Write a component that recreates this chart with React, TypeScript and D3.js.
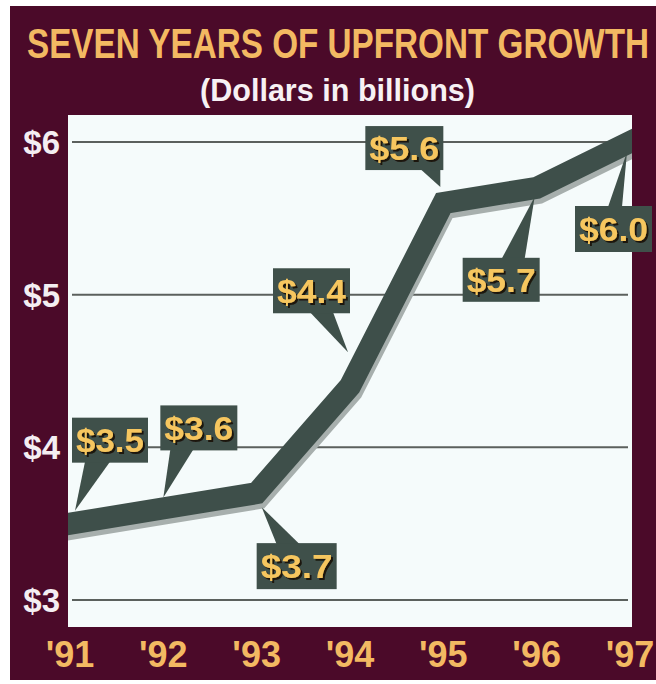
import React from "react";
import * as d3 from "d3";

const years = ["'91", "'92", "'93", "'94", "'95", "'96", "'97"];
const values = [3.5, 3.6, 3.7, 4.4, 5.6, 5.7, 6.0];
const valueLabels = ["$3.5", "$3.6", "$3.7", "$4.4", "$5.6", "$5.7", "$6.0"];
const yTicks = [3, 4, 5, 6];
const yTickLabels = ["$3", "$4", "$5", "$6"];
const title = "SEVEN YEARS OF UPFRONT GROWTH";
const subtitle = "(Dollars in billions)";

// callout layout (pixel offsets relative to the data point)
// bx,by: box top-left offset; side: pointer edge; b0,b1: pointer base from box left; tx,ty: tip offset
const callouts = [
  { bx: 2, by: -106, w: 76, h: 45, side: "bottom", b0: 13, b1: 38, tx: 5, ty: -13 },
  { bx: -3, by: -103, w: 77, h: 45, side: "bottom", b0: 10, b1: 33, tx: 0, ty: -11 },
  { bx: 0, by: 50, w: 80, h: 46, side: "top", b0: 20, b1: 43, tx: 5, ty: 14 },
  { bx: -77, by: -118, w: 77, h: 45, side: "bottom", b0: 37, b1: 60, tx: -2, ty: -34 },
  { bx: -78, by: -77, w: 78, h: 44, side: "bottom", b0: 55, b1: 75, tx: -3, ty: -16 },
  { bx: -74, by: 70, w: 77, h: 44, side: "top", b0: 39, b1: 62, tx: -2, ty: 9 },
  { bx: -55, by: 64, w: 77, h: 46, side: "top", b0: 33, b1: 47, tx: -3, ty: 10 },
];

const W = 656;
const H = 684;
const plot = { x0: 68, y0: 115, x1: 632, y1: 627 };

const MAROON = "#4b0a29";
const PLOT_BG = "#f5fbfb";
const LINE = "#3e4f4a";
const LINE_SHADOW = "#a7afad";
const BOX = "#3f504a";
const GOLD = "#f6c65e";
const TITLE_GOLD = "#f3b962";
const FONT = "'Liberation Sans', Arial, sans-serif";

export default function App() {
  const x = d3.scalePoint<string>().domain(years).range([70, 630]);
  const y = d3.scaleLinear().domain([3, 6]).range([600, 142]);
  const pts: [number, number][] = years.map((yr, i) => [x(yr) as number, y(values[i])]);
  const lineGen = d3.line<[number, number]>().x((d) => d[0]).y((d) => d[1]);
  const path = lineGen(pts) || "";

  return (
    <div style={{ position: "absolute", left: 0, top: 0 }}>
      <svg width={W} height={H} style={{ display: "block" }}>
        <defs>
          <clipPath id="plotClip">
            <rect x={plot.x0} y={plot.y0} width={plot.x1 - plot.x0} height={plot.y1 - plot.y0} />
          </clipPath>
          <filter id="txtShadow" x="-20%" y="-30%" width="140%" height="160%">
            <feDropShadow dx={2} dy={2} stdDeviation={0.6} floodColor="#1e140c" floodOpacity={1} />
          </filter>
        </defs>
        <rect x={0} y={0} width={W} height={H} fill="#ffffff" />
        <rect x={10} y={6} width={W - 10} height={674} fill={MAROON} />
        <g transform="translate(27,58) scale(1,1.38)">
          <text
            x={0}
            y={0}
            fill={TITLE_GOLD}
            fontFamily={FONT}
            fontWeight="bold"
            fontSize={31}
            textLength={622}
            lengthAdjust="spacingAndGlyphs"
          >
            {title}
          </text>
        </g>
        <text
          x={200}
          y={101}
          fill="#f7f1f4"
          fontFamily={FONT}
          fontWeight="bold"
          fontSize={31}
          textLength={275}
          lengthAdjust="spacingAndGlyphs"
        >
          {subtitle}
        </text>
        <rect x={plot.x0} y={plot.y0} width={plot.x1 - plot.x0} height={plot.y1 - plot.y0} fill={PLOT_BG} />
        {yTicks.map((t) => (
          <line key={t} x1={72} x2={628} y1={y(t)} y2={y(t)} stroke="#5b605d" strokeWidth={2} />
        ))}
        {yTicks.map((t, i) => (
          <text
            key={"yl" + t}
            x={60}
            y={y(t) + 12}
            textAnchor="end"
            fill="#f4eef2"
            fontFamily={FONT}
            fontWeight="bold"
            fontSize={33}
          >
            {yTickLabels[i]}
          </text>
        ))}
        <g clipPath="url(#plotClip)">
          <path
            d={path}
            transform="translate(2,5)"
            fill="none"
            stroke={LINE_SHADOW}
            strokeWidth={22}
            strokeLinejoin="miter"
            strokeLinecap="square"
          />
          <path
            d={path}
            fill="none"
            stroke={LINE}
            strokeWidth={22}
            strokeLinejoin="miter"
            strokeLinecap="square"
          />
        </g>
        {callouts.map((c, i) => {
          const [px, py] = pts[i];
          const left = px + c.bx;
          const top = py + c.by;
          const edgeY = c.side === "bottom" ? top + c.h - 1 : top + 1;
          const tri = `M${left + c.b0},${edgeY} L${left + c.b1},${edgeY} L${px + c.tx},${py + c.ty} Z`;
          const tx = left + c.w / 2;
          const ty = top + c.h / 2 + 12;
          return (
            <g key={"c" + i}>
              <path d={tri} fill={BOX} />
              <rect x={left} y={top} width={c.w} height={c.h} fill={BOX} />
              <text
                x={tx}
                y={ty}
                textAnchor="middle"
                fill={GOLD}
                fontFamily={FONT}
                fontWeight="bold"
                fontSize={33}
                textLength={c.w - 8}
                lengthAdjust="spacingAndGlyphs"
                filter="url(#txtShadow)"
              >
                {valueLabels[i]}
              </text>
            </g>
          );
        })}
        {years.map((yr) => (
          <text
            key={"x" + yr}
            x={x(yr) as number}
            y={667}
            textAnchor="middle"
            fill={TITLE_GOLD}
            fontFamily={FONT}
            fontWeight="bold"
            fontSize={36}
          >
            {yr}
          </text>
        ))}
      </svg>
    </div>
  );
}
